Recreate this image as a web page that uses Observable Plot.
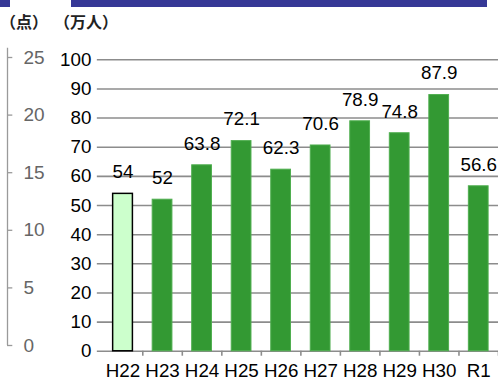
<!DOCTYPE html>
<html><head><meta charset="utf-8">
<script src="https://cdn.jsdelivr.net/npm/d3@7"></script>
<script src="https://cdn.jsdelivr.net/npm/@observablehq/plot@0.6"></script>
<style>
html,body{margin:0;padding:0;background:#fff;overflow:hidden;width:498px;height:384px}
#wrap{position:relative;width:498px;height:384px;font-family:"Liberation Sans",Arial,sans-serif}
#wrap svg{position:absolute;left:0;top:0;overflow:visible}
.band{position:absolute;top:0;height:7px;background:#363896}
.unit{position:absolute;top:9px;font-family:"Noto Sans CJK JP",sans-serif;font-size:16px;font-weight:bold;color:#222}
</style></head><body>
<div id="wrap">
  <div class="band" style="left:0;width:10px"></div>
  <div class="band" style="left:71px;width:416px"></div>
  <div class="unit" style="left:0px">（点）</div>
  <div class="unit" style="left:54px">（万人）</div>
</div>
<script>
const categories = ["H22","H23","H24","H25","H26","H27","H28","H29","H30","R1"];
const visitors = [54, 52, 63.8, 72.1, 62.3, 70.6, 78.9, 74.8, 87.9, 56.6];
const yTicks = [0,10,20,30,40,50,60,70,80,90,100];
const pointTicks = [0,5,10,15,20,25];

const data = categories.map((c,i)=>({cat:c, v:visitors[i]}));
const wrap = document.getElementById("wrap");

const main = Plot.plot({
  width: 504, height: 384,
  marginLeft: 104, marginRight: 0, marginTop: 60, marginBottom: 29,
  style: {fontFamily: '"Liberation Sans", Arial, sans-serif', fontSize: "19px", color: "#000", background: "transparent"},
  x: {domain: categories, paddingInner: 0.5, paddingOuter: 0.25, label: null},
  y: {domain: [0,100], label: null},
  marks: [
    Plot.ruleY(yTicks, {y: d=>d, stroke: "#8c8c8c", strokeWidth: 1.6, insetLeft: -6}),
    Plot.ruleX([0], {x: categories[0], dx: -20, y1: -1.7, y2: 100, stroke: "#8c8c8c", strokeWidth: 1.6}),
    Plot.ruleX(categories, {x: d=>d, dx: 20, y1: -1.7, y2: 0, stroke: "#8c8c8c", strokeWidth: 1.6}),
    Plot.barY(data, {x: "cat", y: "v",
      fill: d => d.cat === "H22" ? "#ccffcc" : "#339933",
      stroke: d => d.cat === "H22" ? "#000" : "#4fae4f",
      strokeWidth: d => d.cat === "H22" ? 1.5 : 1}),
    Plot.text(data, {x: "cat", y: "v", text: d => String(d.v), dy: -22, fontSize: 19, fill: "#000"}),
    Plot.axisY({ticks: yTicks, tickSize: 0, tickPadding: 12, fontSize: 19, fill: "#000"}),
    Plot.axisX({tickSize: 0, tickPadding: 13, fontSize: 19, fill: "#000"})
  ]
});
wrap.appendChild(main);

const side = Plot.plot({
  width: 60, height: 384,
  marginLeft: 7, marginRight: 0, marginTop: 57, marginBottom: 39,
  style: {fontFamily: '"Liberation Sans", Arial, sans-serif', fontSize: "19px", background: "transparent"},
  x: {axis: null, domain: [0,1]},
  y: {domain: [0,25], label: null, axis: null},
  marks: [
    Plot.ruleX([0], {x: 0, y1: 0, y2: 25.8, stroke: "#9a9a9a", strokeWidth: 1.3}),
    Plot.ruleY(pointTicks, {y: d=>d, x1: 0, x2: 0.1, stroke: "#9a9a9a", strokeWidth: 1.3}),
    Plot.text(pointTicks, {y: d=>d, x: 0, dx: 16, text: d=>String(d), textAnchor: "start", fontSize: 19, fill: "#666"})
  ]
});
wrap.appendChild(side);
</script>
</body></html>
